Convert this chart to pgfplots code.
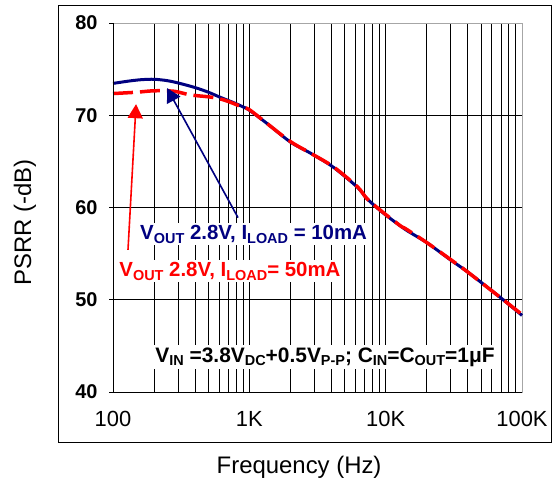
\documentclass[border=0pt]{standalone}
\usepackage{pgfplots}
\pgfplotsset{compat=1.18}
\usepackage{fontspec}
\setmainfont{Liberation Sans}
\usetikzlibrary{arrows.meta}
\definecolor{navyc}{RGB}{0,0,128}
\definecolor{redc}{RGB}{255,0,0}
\newcommand{\sub}[1]{\raisebox{-0.35ex}{\fontsize{14.5}{14.5}\selectfont #1}}
\begin{document}
\begin{tikzpicture}[x=1bp,y=1bp]
\begin{axis}[
  at={(113bp,95bp)}, anchor=south west,
  scale only axis, width=409bp, height=369bp,
  xmode=log, xmin=100, xmax=100000, ymin=40, ymax=80,
  xtick={100,1000,10000,100000},
  xticklabels={100,1K,10K,100K},
  ytick={40,50,60,70,80},
  yticklabels={\textbf{40},\textbf{50},\textbf{60},\textbf{70},\textbf{80}},
  x tick label style={font=\fontsize{22}{24}\selectfont, yshift=-12bp},
  y tick label style={font=\fontsize{20}{22}\selectfont, xshift=-8bp},
  xmajorgrids, xminorgrids, ymajorgrids,
  grid style={black, line width=0.7bp},
  minor grid style={black, line width=0.7bp},
  axis line style={gray!70, line width=0.8bp},
  ytick pos=left, xtick pos=bottom,
  tick align=outside,
  major tick length=4bp, minor tick length=0pt,
  xtick style={draw=none}, ytick style={black, line width=0.7bp},
  xlabel={Frequency (Hz)}, ylabel={PSRR (-dB)},
  xlabel style={font=\fontsize{24}{26}\selectfont, at={(rel axis cs:0.455,0)}, anchor=center, yshift=-75bp},
  ylabel style={font=\fontsize{24}{26}\selectfont, at={(rel axis cs:0,0.46)}, anchor=center, yshift=88bp},
  clip=false,
]
\addplot[navyc, line width=3bp, smooth, tension=0.5] coordinates {
(100,73.45) (130,73.7) (160,73.85) (200,73.9) (250,73.75) (300,73.5) (400,73.0)
(500,72.5) (600,72.0) (700,71.6) (800,71.25) (900,70.9) (1000,70.55) (1350,69.1)
(2000,67.1) (2800,65.9) (4100,64.4) (6200,62.2) (7300,60.95) (9600,59.4) (14000,57.6)
(20000,56.2) (30000,54.3) (40000,53.0) (70000,50.2) (100000,48.3)
};
\addplot[redc, line width=3.5bp, dash pattern=on 20bp off 7bp, smooth, tension=0.5] coordinates {
(100,72.35) (150,72.5) (200,72.65) (280,72.6) (370,72.2) (500,72.0) (600,71.8)
(700,71.5) (850,71.0) (1000,70.6) (1350,69.1) (2000,67.15) (2800,65.9) (4100,64.45)
(6200,62.25) (7300,60.95) (9600,59.45) (13000,57.95) (14000,57.7) (20000,56.2)
(30000,54.35) (40000,53.0) (70000,50.2) (100000,48.4)
};
\draw[black, line width=0.9bp] (rel axis cs:0,1) -- (rel axis cs:0,0) -- (rel axis cs:1,0);
% annotations
\draw[redc, line width=1.6bp, -{Triangle[length=14bp,width=15bp]}] (axis cs:128.8,55.4) -- (axis cs:147.6,71.2);
\draw[navyc, line width=1.6bp, -{Triangle[length=14bp,width=15bp]}] (axis cs:826,58.9) -- (axis cs:249,72.95);
\node[fill=white, inner sep=2bp, text=navyc, font=\bfseries\fontsize{20.5}{22}\selectfont] at (axis cs:1075,57.1) {V\sub{OUT} 2.8V, I\sub{LOAD} = 10mA};
\node[fill=white, inner sep=2bp, text=redc, font=\bfseries\fontsize{20.5}{22}\selectfont] at (axis cs:721,53.1) {V\sub{OUT} 2.8V, I\sub{LOAD}= 50mA};
\node[fill=white, inner sep=3bp, text=black, font=\bfseries\fontsize{21}{22}\selectfont] at (axis cs:3590,43.8) {V\sub{IN} =3.8V\sub{DC}+0.5V\sub{P-P}; C\sub{IN}=C\sub{OUT}=1μF};
\end{axis}
\draw[black, line width=0.9bp] (58,45) rectangle (551.5,482);
\pgfresetboundingbox
\path (0,0) rectangle (553,487);
\end{tikzpicture}
\end{document}
